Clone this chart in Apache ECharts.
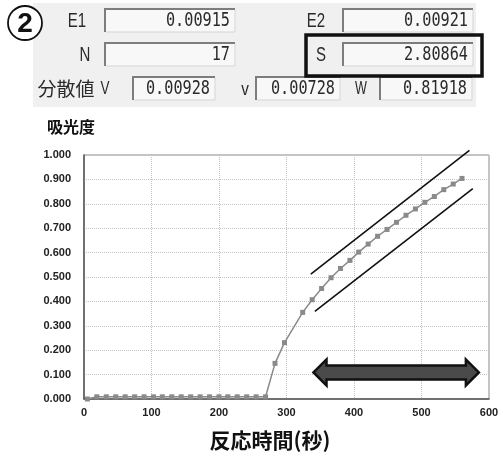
<!DOCTYPE html>
<html>
<head>
<meta charset="utf-8">
<script src="https://cdn.jsdelivr.net/npm/echarts@6/dist/echarts.min.js"></script>
<style>
html,body{margin:0;padding:0;background:#fff;}
#chart{width:503px;height:457px;}
</style>
</head>
<body>
<div id="chart"></div>
<script>
// ---- data ----
var times = [5,19,33,47,61,75,89,103,116,130,144,158,172,186,200,213,227,241,255,269,283,297,324,338,352,366,380,394,407,421,435,449,463,477,491,505,519,533,547,560];
var absorbance = [0.000,0.009,0.009,0.009,0.009,0.009,0.009,0.009,0.009,0.009,0.009,0.009,0.009,0.009,0.009,0.009,0.009,0.009,0.009,0.009,0.146,0.231,0.355,0.407,0.453,0.497,0.535,0.568,0.602,0.635,0.667,0.695,0.724,0.753,0.779,0.806,0.830,0.858,0.881,0.904];
var upperLine = [[336,0.512],[571,1.019]];
var lowerLine = [[342,0.359],[576,0.862]];
var arrowSpan = [[340,0.109],[585,0.109]];
var yTicks = [0,0.1,0.2,0.3,0.4,0.5,0.6,0.7,0.8,0.9,1.0];
var xTicks = [0,100,200,300,400,500,600];
var fieldLabels = ['E1','E2','N','S','分散値','V','v','W'];
var fieldValues = {E1:'0.00915',E2:'0.00921',N:'17',S:'2.80864',V:'0.00928',v:'0.00728',W:'0.81918'};
var yName = '吸光度';
var xName = '反応時間(秒)';

var seriesData = times.map(function(t,i){return [t, absorbance[i]];});

// ---- panel graphics ----
var g = [];
g.push({type:'rect', shape:{x:33,y:3,width:443,height:104}, style:{fill:'#f0f0f0'}, z:1});
g.push({type:'circle', shape:{cx:25,cy:23,r:17}, style:{fill:'#fff',stroke:'#111',lineWidth:1.8}, z:2});
g.push({type:'text', x:25, y:24, style:{text:'2', font:'bold 28px "Liberation Sans"', fill:'#111', textAlign:'center', textVerticalAlign:'middle'}, z:3});

function box(x,y,w,h,val){
  g.push({type:'rect', shape:{x:x,y:y,width:w,height:h}, style:{fill:'#f8f8f8'}, z:2});
  g.push({type:'polyline', shape:{points:[[x,y+h],[x,y],[x+w,y]]}, style:{stroke:'#7d7d7d',lineWidth:2,fill:null}, z:3});
  g.push({type:'polyline', shape:{points:[[x+1,y+h],[x+w,y+h],[x+w,y+1]]}, style:{stroke:'#d5d5d5',lineWidth:1,fill:null}, z:3});
  g.push({type:'text', x:x+w-5, y:y+h/2+1, scaleX:0.8, style:{text:val, font:'19px "DejaVu Sans Mono"', fill:'#2a2a2a', textAlign:'right', textVerticalAlign:'middle'}, z:4});
}
function label(cx,cy,t,size,scale,family){
  g.push({type:'text', x:cx, y:cy, scaleX:scale, style:{text:t, font:size+'px '+family, fill:'#2a2a2a', textAlign:'center', textVerticalAlign:'middle'}, z:4});
}
box(105,9,130,23,fieldValues.E1);
box(343,9,130,23,fieldValues.E2);
box(105,43,130,23,fieldValues.N);
box(343,43,130,23,fieldValues.S);
box(133,77,82,23,fieldValues.V);
box(256,77,84,23,fieldValues.v);
box(380,77,92,23,fieldValues.W);
label(77,21,fieldLabels[0],20,0.75,'"Liberation Sans"');
label(316,21,fieldLabels[1],20,0.75,'"Liberation Sans"');
label(85,55,fieldLabels[2],20,0.75,'"Liberation Sans"');
label(321,55,fieldLabels[3],20,0.75,'"Liberation Sans"');
label(66,89,fieldLabels[4],19,1,'"Noto Sans CJK JP"');
label(105,89,fieldLabels[5],18,0.75,'"Liberation Sans"');
label(245,90,fieldLabels[6],18,0.85,'"Liberation Sans"');
label(361,89,fieldLabels[7],18,0.7,'"Liberation Sans"');
g.push({type:'rect', shape:{x:306,y:35,width:176,height:41}, style:{fill:null,stroke:'#111',lineWidth:3.5}, z:5});
g.push({type:'text', x:47, y:127, style:{text:yName, font:'bold 16px "Noto Sans CJK JP"', fill:'#111', textAlign:'left', textVerticalAlign:'middle'}, z:4});
g.push({type:'text', x:270, y:440, style:{text:xName, font:'bold 21px "Noto Sans CJK JP"', fill:'#111', textAlign:'center', textVerticalAlign:'middle'}, z:4});

var chart = echarts.init(document.getElementById('chart'), null, {renderer:'canvas'});
var option = {
  animation:false,
  backgroundColor:'#fff',
  graphic:g,
  grid:{left:84, top:155, width:405, height:244, show:true, borderColor:'#888', borderWidth:1, containLabel:false},
  xAxis:{type:'value', min:0, max:600, interval:100,
    axisLine:{show:true, lineStyle:{color:'#555', width:1.5}},
    axisTick:{show:false},
    axisLabel:{color:'#222', fontSize:11, fontWeight:'bold', fontFamily:'Liberation Sans', margin:8,
      formatter:function(v){return xTicks.indexOf(v)>=0 ? String(v) : '';}},
    splitLine:{show:true, lineStyle:{color:'#c4c4c4', type:[1,1], width:1}}},
  yAxis:{type:'value', min:0, max:1, interval:0.1,
    axisLine:{show:true, lineStyle:{color:'#555', width:1.5}},
    axisTick:{show:false},
    axisLabel:{color:'#222', fontSize:11, fontWeight:'bold', fontFamily:'Liberation Sans', margin:13,
      formatter:function(v){return v.toFixed(3);}},
    splitLine:{show:true, lineStyle:{color:'#c4c4c4', type:[1,1], width:1}}},
  series:[
    {type:'line', data:seriesData, symbol:'rect', symbolSize:5, showSymbol:true,
      itemStyle:{color:'#8a8a8a'}, lineStyle:{color:'#8a8a8a', width:1.5}, z:3},
    {type:'line', data:upperLine, symbol:'none', clip:false, lineStyle:{color:'#111', width:1.6}, z:4},
    {type:'line', data:lowerLine, symbol:'none', clip:false, lineStyle:{color:'#111', width:1.6}, z:4},
    {type:'custom', data:[0], clip:false, z:5,
      renderItem:function(params, api){
        var a = api.coord(arrowSpan[0]);
        var b = api.coord(arrowSpan[1]);
        var y = a[1], hl = 13, hh = 13, sh = 7;
        var pts = [
          [a[0], y], [a[0]+hl, y-hh], [a[0]+hl, y-sh], [b[0]-hl, y-sh], [b[0]-hl, y-hh],
          [b[0], y], [b[0]-hl, y+hh], [b[0]-hl, y+sh], [a[0]+hl, y+sh], [a[0]+hl, y+hh]
        ];
        return {type:'polygon', shape:{points:pts}, style:{fill:'#4a4a4a', stroke:'#111', lineWidth:2.5, lineJoin:'miter'}};
      }}
  ]
};
chart.setOption(option);
</script>
</body>
</html>
